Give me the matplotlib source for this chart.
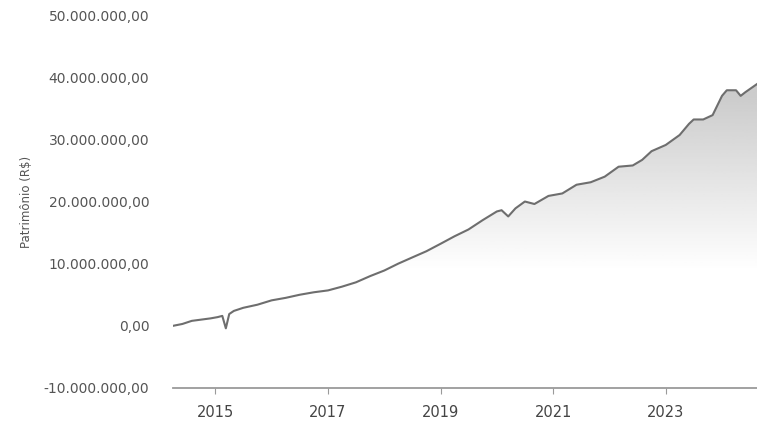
import matplotlib
matplotlib.use("Agg")
import matplotlib.pyplot as plt
import matplotlib.dates as mdates
import matplotlib.ticker as mticker
import numpy as np
import pandas as pd

# patrimônio mensal estimado (milhões de R$)
dates = [
    "2014-04-01", "2014-06-01", "2014-08-01", "2014-10-01", "2014-12-01",
    "2015-01-15", "2015-02-15", "2015-03-10", "2015-04-01", "2015-05-01",
    "2015-07-01", "2015-10-01", "2016-01-01", "2016-04-01", "2016-07-01",
    "2016-10-01", "2017-01-01", "2017-04-01", "2017-07-01", "2017-10-01",
    "2018-01-01", "2018-04-01", "2018-07-01", "2018-10-01", "2019-01-01",
    "2019-04-01", "2019-07-01", "2019-10-01", "2020-01-01", "2020-02-01",
    "2020-03-15", "2020-05-01", "2020-07-01", "2020-09-01", "2020-12-01",
    "2021-03-01", "2021-06-01", "2021-09-01", "2021-12-01", "2022-03-01",
    "2022-06-01", "2022-08-01", "2022-10-01", "2023-01-01", "2023-04-01",
    "2023-06-01", "2023-07-01", "2023-09-01", "2023-11-01", "2024-01-01",
    "2024-02-01", "2024-04-01", "2024-05-01", "2024-06-01", "2024-08-15",
]
values_m = [
    0.0, 0.3, 0.8, 1.0, 1.2,
    1.4, 1.6, -0.4, 1.9, 2.4,
    2.9, 3.4, 4.1, 4.5, 5.0,
    5.4, 5.7, 6.3, 7.0, 8.0,
    8.9, 10.0, 11.0, 12.0, 13.2,
    14.4, 15.5, 17.0, 18.4, 18.6,
    17.6, 18.9, 20.0, 19.6, 20.9,
    21.3, 22.7, 23.1, 24.0, 25.6,
    25.8, 26.7, 28.1, 29.1, 30.7,
    32.5, 33.2, 33.2, 33.9, 37.0,
    37.9, 37.9, 37.0, 37.6, 38.9,
]
year_ticks = [2015, 2017, 2019, 2021, 2023]
y_ticks = [-10e6, 0, 10e6, 20e6, 30e6, 40e6, 50e6]

x = mdates.date2num(pd.to_datetime(dates))
y = np.array(values_m) * 1e6

fig = plt.figure(figsize=(7.57, 4.30), dpi=100)
ax = fig.add_axes([0.2285, 0.0977, 0.7715, 0.8673])

x0 = mdates.date2num(pd.Timestamp("2014-04-01"))
x1 = mdates.date2num(pd.Timestamp("2024-08-15"))
ax.set_xlim(x0, x1)
ax.set_ylim(-10e6, 50e6)

# gradient fill under the line: denser for higher values
alpha = np.clip((np.linspace(-10e6, 50e6, 256) - 9e6) / 28e6, 0, 1) * 0.5
rgba = np.zeros((256, 1, 4))
rgba[..., :3] = 0.6
rgba[..., 3] = alpha.reshape(-1, 1)
img = ax.imshow(rgba, extent=[x0, x1, -10e6, 50e6], origin="lower",
                aspect="auto", zorder=1)
poly = ax.fill_between(x, y, -10e6, color="none", lw=0)
img.set_clip_path(poly.get_paths()[0], transform=ax.transData)

ax.plot(x, y, color="#6e6e6e", linewidth=1.5, zorder=3)

for s in ["top", "right", "left"]:
    ax.spines[s].set_visible(False)
ax.spines["bottom"].set_color("#9a9a9a")
ax.spines["bottom"].set_linewidth(1.3)

ax.set_xticks([mdates.date2num(pd.Timestamp(f"{yr}-01-01")) for yr in year_ticks])
ax.set_xticklabels([str(yr) for yr in year_ticks])
ax.tick_params(axis="x", length=4, color="#9a9a9a", labelsize=10.5,
               labelcolor="#444444", pad=8)

ax.set_yticks(y_ticks)
ax.yaxis.set_major_formatter(mticker.FuncFormatter(
    lambda v, p: f"{v:,.2f}".replace(",", "X").replace(".", ",").replace("X", ".")))
ax.tick_params(axis="y", length=0, labelsize=10, labelcolor="#555555", pad=17)

ax.set_ylabel("Patrimônio (R$)", fontsize=8.5, color="#555555", labelpad=8)

fig.savefig("out.png", dpi=100)
